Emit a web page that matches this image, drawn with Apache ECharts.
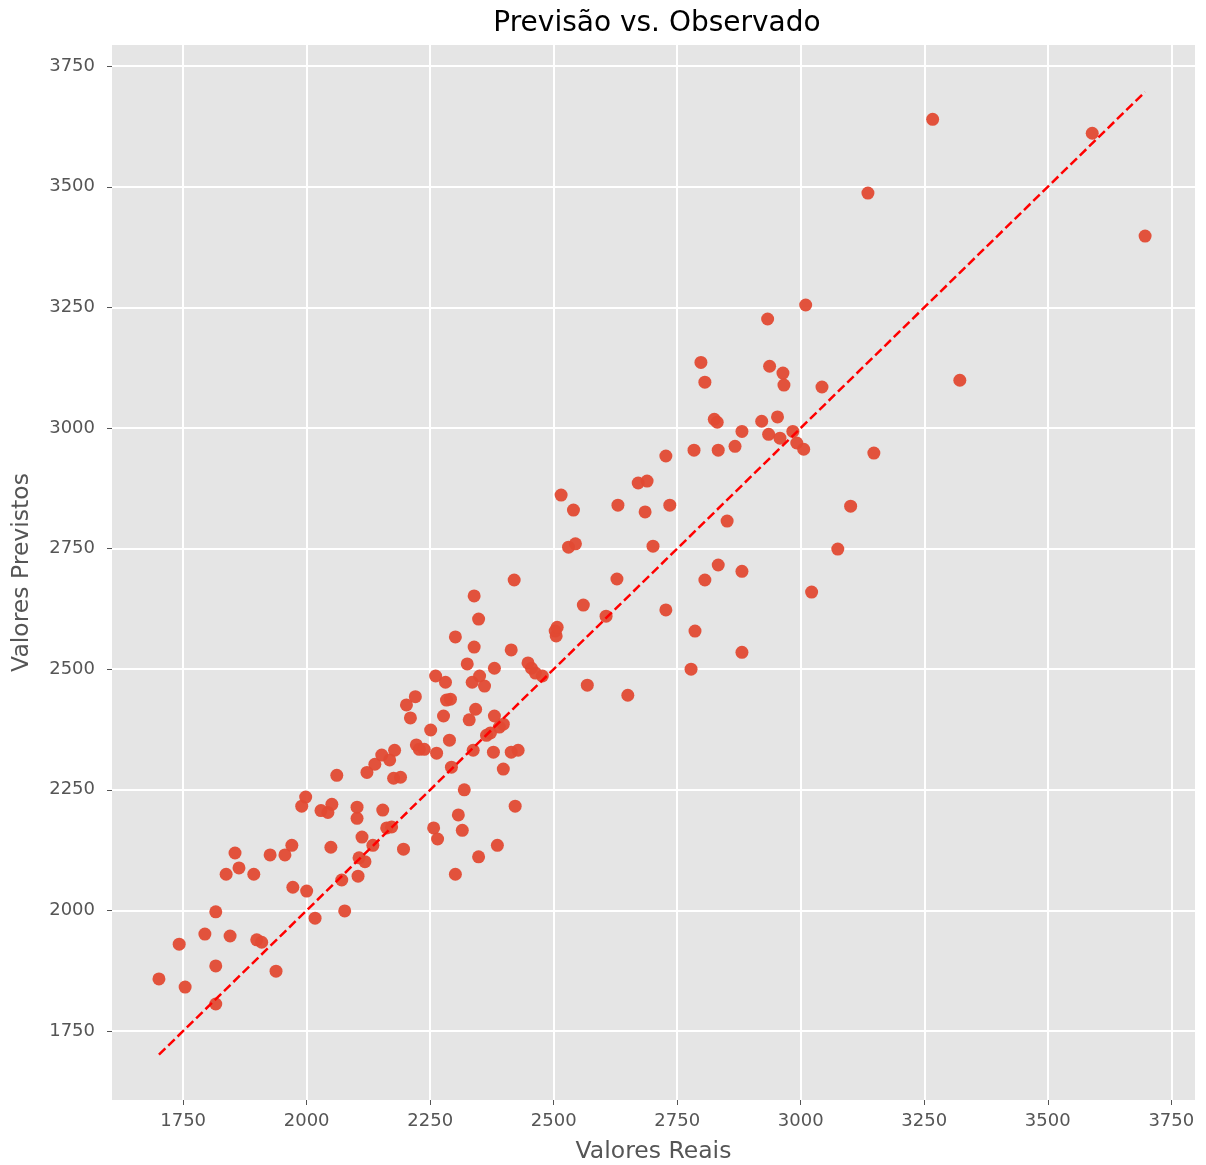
<!DOCTYPE html>
<html>
<head>
<meta charset="utf-8">
<script src="https://cdn.jsdelivr.net/npm/echarts@6/dist/echarts.min.js"></script>
<style>html,body{margin:0;padding:0;background:#fff;}#c{width:1206px;height:1165px;}</style>
</head>
<body>
<div id="c"></div>
<script>
const titleText = 'Previsão vs. Observado';
const xLabel = 'Valores Reais';
const yLabel = 'Valores Previstos';
const tickValues = [1750, 2000, 2250, 2500, 2750, 3000, 3250, 3500, 3750];
const realValues = [1701,1742,1754,1794,1816,1816,1816,1837,1845,1855,1863,1893,1899,1909,1926,1938,1956,1970,1972,1990,1998,2000,2017,2029,2043,2049,2051,2061,2071,2077,2102,2102,2104,2106,2112,2118,2122,2134,2138,2152,2154,2162,2168,2172,2178,2176,2190,2196,2202,2210,2220,2222,2228,2238,2251,2257,2261,2263,2265,2277,2281,2283,2291,2289,2293,2301,2301,2307,2315,2319,2325,2329,2335,2337,2339,2339,2342,2348,2348,2350,2360,2364,2372,2378,2380,2380,2386,2390,2398,2398,2414,2414,2420,2422,2428,2448,2455,2463,2477,2503,2505,2507,2515,2530,2540,2544,2560,2568,2606,2630,2628,2650,2671,2685,2689,2701,2727,2727,2735,2778,2784,2786,2798,2806,2806,2825,2831,2833,2833,2851,2867,2881,2881,2881,2921,2933,2935,2937,2953,2958,2964,2966,2984,2992,3006,3010,3022,3043,3075,3101,3136,3148,3267,3322,3590,3697];
const predValues = [1858,1930,1841,1951,1997,1885,1806,2075,1947,2119,2088,2075,1939,1934,2115,1874,2115,2135,2048,2216,2235,2040,1984,2207,2203,2131,2220,2280,2063,1999,2214,2191,2071,2109,2152,2101,2286,2135,2303,2322,2208,2171,2312,2173,2332,2274,2276,2127,2426,2399,2443,2343,2334,2334,2374,2171,2486,2326,2148,2403,2473,2436,2438,2353,2297,2567,2075,2198,2166,2250,2511,2395,2473,2332,2652,2546,2417,2604,2111,2486,2465,2363,2368,2328,2502,2403,2135,2380,2293,2386,2540,2328,2685,2216,2332,2513,2502,2492,2486,2579,2569,2587,2861,2753,2830,2760,2633,2467,2610,2840,2687,2446,2886,2826,2890,2755,2942,2623,2840,2500,2954,2579,3136,3095,2685,3018,3012,2716,2954,2807,2962,2993,2703,2535,3014,3226,2987,3128,3023,2979,3114,3089,2993,2969,2956,3255,2660,3085,2749,2838,3487,2948,3640,3099,3611,3398];
const idealLine = [1701, 3697];

const points = realValues.map((v, i) => [v, predValues[i]]);
const lineData = idealLine.map(v => [v, v]);

const chart = echarts.init(document.getElementById('c'), null, {renderer: 'canvas'});
const axisCommon = {
  type: 'value',
  axisLine: {show: false},
  axisTick: {show: true, inside: false, length: 5, lineStyle: {color: '#555555', width: 1}, customValues: tickValues},
  axisLabel: {color: '#555555', fontSize: 18, fontFamily: 'DejaVu Sans', customValues: tickValues, formatter: v => String(v)},
  splitLine: {show: true, lineStyle: {color: '#FFFFFF', width: 2}},
  nameLocation: 'middle',
  nameTextStyle: {color: '#555555', fontSize: 23.5, fontFamily: 'DejaVu Sans'}
};
chart.setOption({
  animation: false,
  backgroundColor: '#FFFFFF',
  title: {text: titleText, left: 652, textAlign: 'center', top: 5, textStyle: {color: '#000000', fontSize: 28, fontWeight: 'normal', fontFamily: 'DejaVu Sans'}},
  grid: {left: 112, right: 11, top: 45, bottom: 65, show: true, backgroundColor: '#E5E5E5', borderWidth: 0, outerBoundsMode: 'none'},
  xAxis: Object.assign({}, axisCommon, {min: 1606, max: 3798, name: xLabel, nameGap: 40,
    axisLabel: Object.assign({}, axisCommon.axisLabel, {margin: 12})}),
  yAxis: Object.assign({}, axisCommon, {min: 1607, max: 3794, name: yLabel, nameGap: 78,
    axisLabel: Object.assign({}, axisCommon.axisLabel, {margin: 17})}),
  series: [
    {type: 'scatter', data: points, symbol: 'circle', symbolSize: 13, itemStyle: {color: '#E24A33', opacity: 0.95}, z: 2},
    {type: 'line', data: lineData, symbol: 'none', lineStyle: {color: '#FF0000', width: 2.5, type: [9, 4]}, z: 3}
  ]
});
</script>
</body>
</html>
